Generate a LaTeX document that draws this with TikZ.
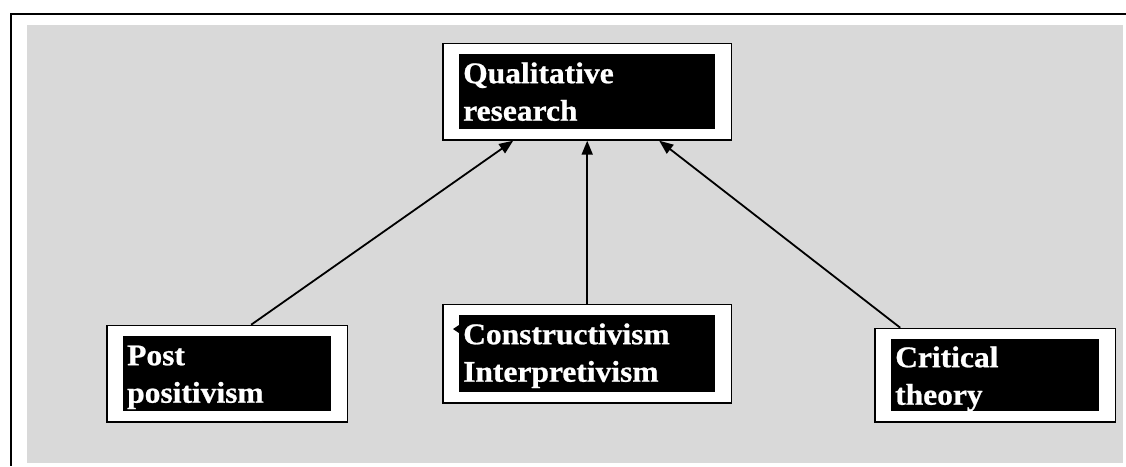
\documentclass[tikz,border=0pt]{standalone}
\usepackage{fontspec}
\setmainfont[FakeStretch=1.05, BoldFont={Liberation Serif Bold},
  BoldFeatures={FakeBold=0.8}]{Liberation Serif}
\usetikzlibrary{arrows.meta, positioning, fit, backgrounds}
\definecolor{panelgray}{RGB}{217,217,217}

\begin{document}
\begin{tikzpicture}[x=1pt, y=-1pt,
  darkbox/.style={fill=black, text=white, anchor=north west, align=left,
    inner xsep=4pt, inner ysep=0pt, text height=29pt, text depth=46pt,
    font=\bfseries\fontsize{30}{37.5}\selectfont},
  whiteframe/.style={draw=black, line width=1.6pt, fill=white,
    inner xsep=16pt, inner ysep=10.5pt},
  link/.style={line width=1.8pt, -{Triangle[length=14pt, width=11pt]}}]
  \useasboundingbox (0,0) rectangle (1126,466);
  % Page frame, top and left edges only
  \draw[line width=2pt] (1126,14) -- (11,14) -- (11,466);
  % Black labels
  \node[darkbox, text width=248pt] (qr) at (459,54) {Qualitative\\research};
  \node[darkbox, text width=248pt, text depth=48pt] (ci) at (459,315)
    {Constructivism\\Interpretivism};
  \node[darkbox, text width=200pt] (pp) at (123,336) {Post\\positivism};
  \node[darkbox, text width=200pt, text height=28pt, text depth=44pt] (ct)
    at (891,339) {Critical\\theory};
  % Small notch left of the middle label
  \fill (ci.north west) ++(0,10) -- ++(-6,4) -- ++(6,4) -- cycle;
  % Gray panel + white frames behind the labels
  \begin{scope}[on background layer]
    \fill[panelgray] (27,25) rectangle (1123,463);
    \node[whiteframe, fit=(qr)] (qrf) {};
    \node[whiteframe, fit=(ci)] (cif) {};
    \node[whiteframe, fit=(pp)] (ppf) {};
    \node[whiteframe, fit=(ct)] (ctf) {};
  \end{scope}
  % Arrows up to the top box
  \draw[link] ([xshift=24pt]ppf.north) -- ([xshift=-74pt]qrf.south);
  \draw[link] (cif.north) -- (qrf.south);
  \draw[link] ([xshift=-95pt]ctf.north) -- ([xshift=72pt]qrf.south);
\end{tikzpicture}
\end{document}
